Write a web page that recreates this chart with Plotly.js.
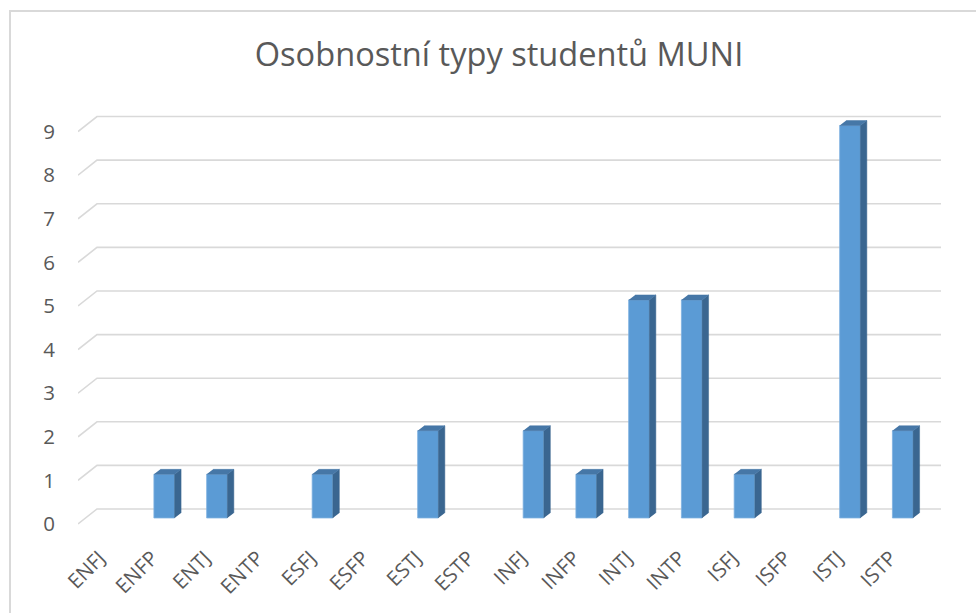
<!DOCTYPE html>
<html>
<head>
<meta charset="utf-8">
<script src="https://cdn.plot.ly/plotly-3.0.1.min.js"></script>
<style>
  html, body { margin: 0; padding: 0; background: #ffffff; }
  #frame { position: absolute; left: 9px; top: 10px; width: 1200px; height: 900px;
           border-top: 2px solid #D9D9D9; border-left: 2px solid #D9D9D9; }
  #chart { position: absolute; left: 0; top: 0; width: 976px; height: 613px; }
</style>
</head>
<body>
<div id="frame"></div>
<div id="chart"></div>
<script>
// ---- data ----
const categories = ['ENFJ','ENFP','ENTJ','ENTP','ESFJ','ESFP','ESTJ','ESTP','INFJ','INFP','INTJ','INTP','ISFJ','ISFP','ISTJ','ISTP'];
const counts     = [0, 1, 1, 0, 1, 0, 2, 0, 2, 1, 5, 5, 1, 0, 9, 2];
const yTicks     = [0, 1, 2, 3, 4, 5, 6, 7, 8, 9];
const titleText  = 'Osobnostní typy studentů MUNI';

// ---- 3D look geometry (axis units) ----
const X_MIN = -0.635, X_MAX = 15.725;
const Y_MIN = -0.482, Y_MAX = 9.38;
const BASE = -0.206;   // front face of bars sits slightly in front of back wall
const HALF = 0.196;    // half width of bar front face
const DX = 0.123, DY = 0.115;   // bar depth
const STUB_X = 0.36, STUB_Y = 0.344; // floor depth (gridline stubs)

const idx = categories.map((_, i) => i);

// gridlines as shapes below the data
const shapes = yTicks.map(v => ({
  type: 'path', xref: 'x', yref: 'y', layer: 'below',
  path: `M ${X_MIN} ${v - STUB_Y} L ${X_MIN + STUB_X} ${v} L ${X_MAX} ${v}`,
  line: { color: '#D9D9D9', width: 1.6 }
}));

// side and top faces
const sideX = [], sideY = [], topX = [], topY = [];
counts.forEach((v, i) => {
  if (!v) return;
  const top = BASE + v;
  sideX.push(i + HALF, i + HALF, i + HALF + DX, i + HALF + DX, null);
  sideY.push(BASE, top, top + DY, BASE + DY, null);
  topX.push(i - HALF, i + HALF, i + HALF + DX, i - HALF + DX, null);
  topY.push(top, top, top + DY, top + DY, null);
});

const traces = [
  {
    type: 'bar', x: idx, y: counts.map(v => v || null), base: BASE,
    width: HALF * 2,
    marker: { color: '#5B9BD5', line: { color: '#7DB0E0', width: 0.8 } },
    hoverinfo: 'skip'
  },
  {
    type: 'scatter', mode: 'lines', x: sideX, y: sideY, fill: 'toself',
    fillcolor: '#3A6690', line: { color: '#3A6690', width: 0.5 }, hoverinfo: 'skip'
  },
  {
    type: 'scatter', mode: 'lines', x: topX, y: topY, fill: 'toself',
    fillcolor: '#4677A7', line: { color: '#4677A7', width: 0.5 }, hoverinfo: 'skip'
  }
];

const tickFont = { family: 'Open Sans, sans-serif', size: 20.5, color: '#595959' };

const layout = {
  width: 976, height: 613,
  paper_bgcolor: 'rgba(0,0,0,0)', plot_bgcolor: 'rgba(0,0,0,0)',
  margin: { l: 78, r: 35, t: 100, b: 83 },
  showlegend: false,
  title: {
    text: titleText, xref: 'container', yref: 'container',
    x: 499 / 976, xanchor: 'center', y: 1 - 55 / 613, yanchor: 'middle',
    font: { family: 'Open Sans, sans-serif', size: 32.6, color: '#595959' }
  },
  xaxis: {
    type: 'linear', range: [X_MIN, X_MAX], tickmode: 'array',
    tickvals: idx, ticktext: categories, tickangle: -45,
    showgrid: false, zeroline: false, showline: false,
    ticks: 'outside', ticklen: 7, tickcolor: 'rgba(0,0,0,0)',
    ticklabelshift: -12,
    tickfont: tickFont, fixedrange: true
  },
  yaxis: {
    range: [Y_MIN, Y_MAX], tickmode: 'array',
    tickvals: yTicks.map(v => v - STUB_Y), ticktext: yTicks.map(String),
    showgrid: false, zeroline: false, showline: false,
    ticks: 'outside', ticklen: 18, tickcolor: 'rgba(0,0,0,0)',
    tickfont: tickFont, fixedrange: true
  },
  shapes: shapes,
  bargap: 0
};

Plotly.newPlot('chart', traces, layout, { staticPlot: true, displayModeBar: false });
</script>
</body>
</html>
